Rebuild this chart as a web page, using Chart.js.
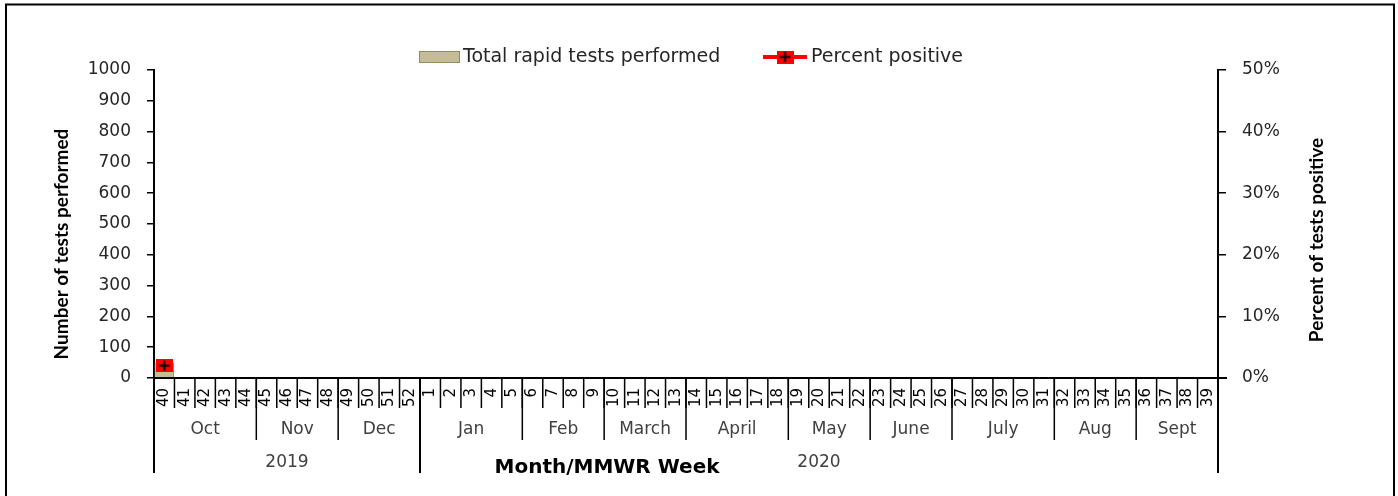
<!DOCTYPE html>
<html>
<head>
<meta charset="utf-8">
<script src="https://cdn.jsdelivr.net/npm/chart.js@4"></script>
<style>
  body { margin: 0; background: #fff; }
  #wrap { width: 1398px; height: 496px; }
</style>
</head>
<body>
<div id="wrap"><canvas id="myChart" width="1398" height="496"></canvas></div>
<script>
// MMWR weeks, Oct 2019 - Sept 2020
var weeks = ['40', '41', '42', '43', '44', '45', '46', '47', '48', '49', '50', '51', '52',
    '1', '2', '3', '4', '5', '6', '7', '8', '9', '10', '11', '12', '13', '14', '15', '16', '17', '18',
    '19', '20', '21', '22', '23', '24', '25', '26', '27', '28', '29', '30', '31', '32', '33', '34', '35',
    '36', '37', '38', '39'];
var months = ['Oct', 'Nov', 'Dec', 'Jan', 'Feb', 'March', 'April', 'May', 'June', 'July', 'Aug', 'Sept'];
var weeksPerMonth = [5, 4, 4, 5, 4, 4, 5, 4, 4, 5, 4, 4];
var years = ['2019', '2020'];
var weeksPerYear = [13, 39];

var testsPerformed = [50, null, null, null, null, null, null, null, null, null, null, null, null,
    null, null, null, null, null, null, null, null, null, null, null, null, null, null, null, null, null, null,
    null, null, null, null, null, null, null, null, null, null, null, null, null, null, null, null, null,
    null, null, null, null];
var percentPositive = [2, null, null, null, null, null, null, null, null, null, null, null, null,
    null, null, null, null, null, null, null, null, null, null, null, null, null, null, null, null, null, null,
    null, null, null, null, null, null, null, null, null, null, null, null, null, null, null, null, null,
    null, null, null, null];

var leftTicks = { min: 0, max: 1000, step: 100 };
var rightTicks = { min: 0, max: 50, step: 10 };

var tan = '#C4BD97';
var tanBorder = '#948A54';
var red = '#FF0000';
var textColor = '#262626';
var fontFamily = '"DejaVu Sans", Verdana, sans-serif';

// red square with a black plus, used as the point and in the legend
var marker = document.createElement('canvas');
marker.width = 17;
marker.height = 13;
(function () {
    var c = marker.getContext('2d');
    c.fillStyle = red;
    c.fillRect(0, 0, 17, 13);
    c.strokeStyle = '#000';
    c.lineWidth = 2;
    c.beginPath();
    c.moveTo(3, 6.5); c.lineTo(14, 6.5);
    c.moveTo(8.5, 1.5); c.lineTo(8.5, 11.5);
    c.stroke();
})();

// multi level axis, titles, legend and frame
var decorations = {
    id: 'decorations',
    afterDraw(chart) {
        const ctx = chart.ctx;
        const x = chart.scales.x;
        const area = chart.chartArea;
        const half = (x.getPixelForValue(1) - x.getPixelForValue(0)) / 2;
        const edge = i => x.getPixelForValue(i) - half;
        const bottom = area.bottom;

        ctx.save();
        ctx.strokeStyle = '#000';

        // axis line runs a little past the right axis
        ctx.lineWidth = 2;
        ctx.beginPath();
        ctx.moveTo(area.right, bottom);
        ctx.lineTo(area.right + 9, bottom);
        ctx.stroke();
        ctx.lineWidth = 1.5;

        // week separators and labels
        ctx.beginPath();
        for (let i = 1; i < weeks.length; i++) {
            ctx.moveTo(edge(i), bottom);
            ctx.lineTo(edge(i), bottom + 30);
        }
        ctx.stroke();
        ctx.fillStyle = '#000';
        ctx.font = '15px ' + fontFamily;
        ctx.textAlign = 'right';
        ctx.textBaseline = 'middle';
        weeks.forEach((w, i) => {
            ctx.save();
            ctx.translate(x.getPixelForValue(i), bottom + 10);
            ctx.rotate(-Math.PI / 2);
            ctx.fillText(w, 0, 0);
            ctx.restore();
        });

        // months
        let start = 0;
        ctx.font = '17px ' + fontFamily;
        ctx.fillStyle = '#404040';
        ctx.textAlign = 'center';
        months.forEach((m, k) => {
            const end = start + weeksPerMonth[k];
            const a = edge(start), b = edge(end);
            if (k > 0) {
                ctx.beginPath();
                ctx.moveTo(a, bottom);
                ctx.lineTo(a, bottom + 62);
                ctx.stroke();
            }
            ctx.fillText(m, (a + b) / 2, bottom + 52);
            start = end;
        });

        // years
        start = 0;
        ctx.lineWidth = 2;
        years.forEach((y, k) => {
            const end = start + weeksPerYear[k];
            const a = edge(start), b = edge(end);
            ctx.beginPath();
            ctx.moveTo(a, bottom);
            ctx.lineTo(a, bottom + 95);
            ctx.stroke();
            ctx.fillText(y, (a + b) / 2, bottom + 85);
            start = end;
        });
        ctx.beginPath();
        ctx.moveTo(edge(weeks.length), bottom);
        ctx.lineTo(edge(weeks.length), bottom + 95);
        ctx.stroke();

        // axis titles
        ctx.fillStyle = '#000';
        ctx.font = 'bold 20px ' + fontFamily;
        ctx.fillText('Month/MMWR Week', 607, bottom + 90);

        ctx.font = 'bold 19px Lato, "DejaVu Sans", sans-serif';
        ctx.save();
        ctx.translate(62, 244);
        ctx.rotate(-Math.PI / 2);
        ctx.fillText('Number of tests performed', 0, 0);
        ctx.restore();
        ctx.save();
        ctx.translate(1317, 240);
        ctx.rotate(-Math.PI / 2);
        ctx.fillText('Percent of tests positive', 0, 0);
        ctx.restore();

        // legend
        ctx.fillStyle = tan;
        ctx.fillRect(419, 51, 40, 11);
        ctx.strokeStyle = tanBorder;
        ctx.lineWidth = 1;
        ctx.strokeRect(419.5, 51.5, 40, 11);
        ctx.fillStyle = textColor;
        ctx.font = '19px ' + fontFamily;
        ctx.textAlign = 'left';
        ctx.fillText('Total rapid tests performed', 463, 57);
        ctx.strokeStyle = red;
        ctx.lineWidth = 4;
        ctx.beginPath();
        ctx.moveTo(763, 57);
        ctx.lineTo(807, 57);
        ctx.stroke();
        ctx.drawImage(marker, 785 - 8.5, 57 - 6.5);
        ctx.fillText('Percent positive', 811, 57);

        // outer frame (bottom edge is cut off)
        ctx.strokeStyle = '#000';
        ctx.lineWidth = 2;
        ctx.beginPath();
        ctx.moveTo(6, 500);
        ctx.lineTo(6, 4.5);
        ctx.lineTo(1394, 4.5);
        ctx.lineTo(1394, 500);
        ctx.stroke();
        ctx.restore();
    }
};

var data = {
    labels: weeks,
    datasets: [
        {
            type: 'line',
            label: 'Percent positive',
            data: percentPositive,
            yAxisID: 'y1',
            borderColor: red,
            borderWidth: 4,
            pointStyle: marker,
            order: 1
        },
        {
            type: 'bar',
            label: 'Total rapid tests performed',
            data: testsPerformed,
            yAxisID: 'y',
            backgroundColor: tan,
            borderColor: tanBorder,
            borderWidth: 1,
            barPercentage: 1,
            categoryPercentage: 0.95,
            order: 2
        }
    ]
};

var config = {
    type: 'bar',
    data: data,
    options: {
        responsive: false,
        animation: false,
        layout: { padding: { top: 70, left: 0, right: 0, bottom: 0 } },
        plugins: {
            legend: { display: false },
            tooltip: { enabled: false }
        },
        scales: {
            x: {
                offset: true,
                grid: { display: false },
                ticks: { display: false },
                border: { color: '#000', width: 2 },
                afterFit: s => { s.height = 118; }
            },
            y: {
                position: 'left',
                min: leftTicks.min,
                max: leftTicks.max,
                ticks: {
                    stepSize: leftTicks.step, color: textColor, padding: 16,
                    font: { family: fontFamily, size: 17 },
                    callback: v => String(v)
                },
                grid: { drawOnChartArea: false, tickLength: 7, color: '#000', lineWidth: 1.5 },
                border: { color: '#000', width: 2 },
                afterFit: s => { s.width = 154; }
            },
            y1: {
                position: 'right',
                min: rightTicks.min,
                max: rightTicks.max,
                ticks: {
                    stepSize: rightTicks.step, color: textColor, padding: 16,
                    font: { family: fontFamily, size: 17 },
                    callback: v => v + '%'
                },
                grid: { drawOnChartArea: false, tickLength: 8, color: '#000', lineWidth: 1.5 },
                border: { color: '#000', width: 2 },
                afterFit: s => { s.width = 180; }
            }
        }
    },
    plugins: [decorations]
};

var chartRef = new Chart(document.getElementById('myChart'), config);
</script>
</body>
</html>
